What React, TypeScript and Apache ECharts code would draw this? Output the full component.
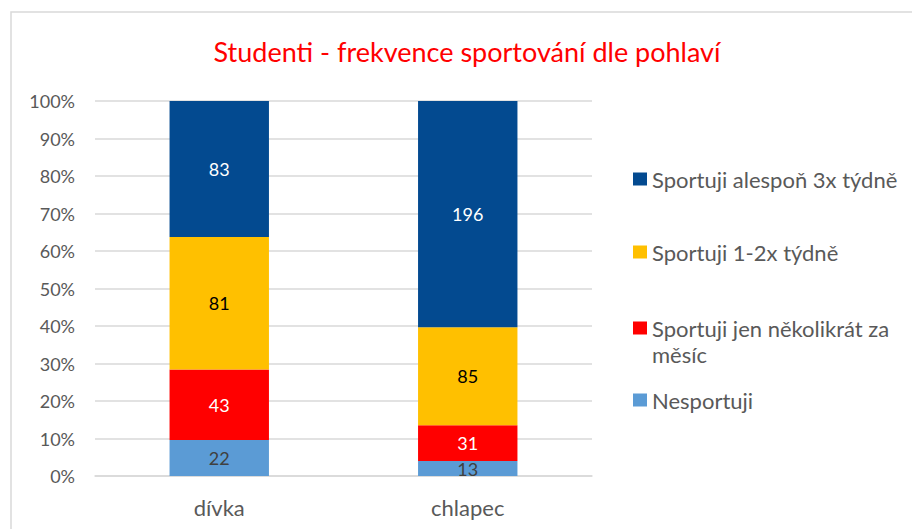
import React, { useEffect, useRef } from "react";
import * as echarts from "echarts";

const categories = ["dívka", "chlapec"];
const seriesNames = [
  "Nesportuji",
  "Sportuji jen několikrát za měsíc",
  "Sportuji 1-2x týdně",
  "Sportuji alespoň 3x týdně",
];
const nesportuji = [22, 13];
const nekolikrat = [43, 31];
const jednouDvakrat = [81, 85];
const alespon3x = [83, 196];
const yTicks = [0, 10, 20, 30, 40, 50, 60, 70, 80, 90, 100];

const rawSeries = [nesportuji, nekolikrat, jednouDvakrat, alespon3x];
const colors = ["#5B9BD5", "#FF0000", "#FFC000", "#034A90"];
const labelColors = ["#404040", "#FFFFFF", "#000000", "#FFFFFF"];

const FONT = "Lato";

export default function App() {
  const ref = useRef<HTMLDivElement>(null);
  useEffect(() => {
    if (!ref.current) return;
    const chart = echarts.init(ref.current, undefined, { renderer: "svg" });
    const totals = categories.map((_, i) =>
      rawSeries.reduce((s, arr) => s + arr[i], 0)
    );
    const series = rawSeries.map((arr, si) => ({
      name: seriesNames[si],
      type: "bar",
      stack: "total",
      barWidth: "40%",
      itemStyle: { color: colors[si] },
      data: arr.map((v, i) => (v / totals[i]) * 100),
      label: {
        show: true,
        position: "inside",
        color: labelColors[si],
        fontFamily: FONT,
        fontSize: 18,
        formatter: (p: any) => String(arr[p.dataIndex]),
      },
    }));
    const legendTops = [166, 239, 289, 387];
    const legendOrder = [3, 2, 1, 0];
    const legends = legendOrder.map((si, k) => ({
      show: true,
      left: 633,
      top: legendTops[k],
      padding: 0,
      orient: "vertical",
      selectedMode: false,
      itemWidth: 14,
      itemHeight: 13,
      itemGap: 0,
      icon: "rect",
      data: [seriesNames[si]],
      formatter:
        si === 1
          ? () => "\nSportuji jen několikrát za\nměsíc"
          : undefined,
      textStyle: {
        fontFamily: FONT,
        fontSize: 22,
        color: "#595959",
        lineHeight: 26,
      },
    }));
    chart.setOption({
      animation: false,
      title: {
        text: "Studenti - frekvence sportování dle pohlaví",
        left: 467,
        textAlign: "center",
        top: 38,
        padding: 0,
        textStyle: {
          color: "#FF0000",
          fontFamily: FONT,
          fontSize: 27,
          fontWeight: "normal",
        },
      },
      graphic: [
        {
          type: "rect",
          shape: { x: 11, y: 12, width: 1000, height: 600 },
          style: { fill: "none", stroke: "#D9D9D9", lineWidth: 1.5 },
          silent: true,
        },
      ],
      legend: legends,
      grid: { left: 95, right: 320, top: 101, bottom: 53 },
      xAxis: {
        type: "category",
        data: categories,
        axisLine: { lineStyle: { color: "#D9D9D9", width: 1.5 } },
        axisTick: { show: false },
        axisLabel: {
          color: "#595959",
          fontFamily: FONT,
          fontSize: 22,
          margin: 20,
        },
      },
      yAxis: {
        type: "value",
        min: yTicks[0],
        max: yTicks[yTicks.length - 1],
        interval: 10,
        axisLine: { show: false },
        axisTick: { show: false },
        splitLine: { lineStyle: { color: "#D9D9D9", width: 1.5 } },
        axisLabel: {
          color: "#595959",
          fontFamily: FONT,
          fontSize: 18,
          margin: 20,
          formatter: "{value}%",
        },
      },
      series,
    });
    return () => chart.dispose();
  }, []);
  return (
    <div
      ref={ref}
      style={{
        position: "fixed",
        left: 0,
        top: 0,
        width: 912,
        height: 529,
        background: "#FFFFFF",
      }}
    />
  );
}
